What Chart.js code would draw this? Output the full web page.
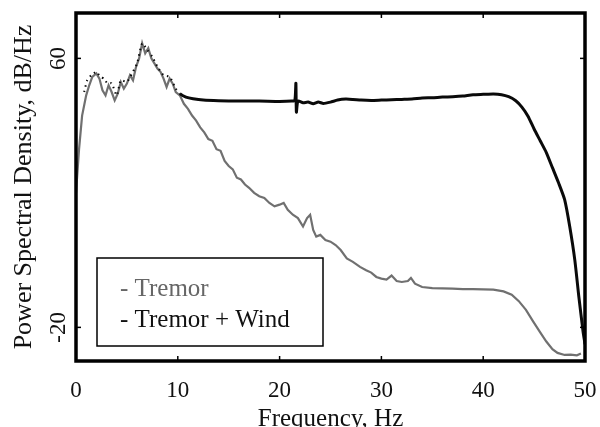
<!DOCTYPE html>
<html>
<head>
<meta charset="utf-8">
<script src="https://cdn.jsdelivr.net/npm/chart.js@4/dist/chart.umd.min.js"></script>
<style>
  html, body { margin: 0; padding: 0; background: #fff; overflow: hidden; }
  #wrap { width: 600px; height: 427px; }
</style>
</head>
<body>
<div id="wrap"><canvas id="Chart" width="600" height="427"></canvas></div>
<script>
// frequency (Hz) / PSD (dB/Hz)
const tremorFreq = [0, 0.3, 0.6, 1.0, 1.3, 1.6, 2.0, 2.3, 2.6, 2.9, 3.2, 3.5, 3.8, 4.1, 4.4, 4.7, 5.0, 5.3, 5.6, 5.9,
  6.2, 6.5, 6.8, 7.1, 7.4, 7.7, 8.0, 8.3, 8.6, 8.9, 9.2, 9.5, 9.8, 10.2, 10.6, 11.0, 11.4, 11.8, 12.2, 12.6,
  13.0, 13.4, 13.8, 14.2, 14.6, 15.0, 15.4, 15.8, 16.2, 16.6, 17.0, 17.5, 18.0, 18.5, 19.0, 19.5, 20.0, 20.4, 20.8, 21.3,
  21.8, 22.3, 22.7, 23.0, 23.3, 23.6, 24.0, 24.5, 25.0, 25.5, 26.0, 26.6, 27.2, 27.9, 28.5, 29.0, 29.5, 30.0, 30.5, 31.0,
  31.5, 32.0, 32.6, 32.9, 33.3, 34, 35, 36, 37, 38, 39, 40, 41, 42, 42.8, 43.5, 44.2, 44.9, 45.6, 46.2,
  46.8, 47.3, 48.0, 48.6, 49.2, 49.6];
const tremorPsd = [20, 33, 43, 49, 52, 54.5, 55.5, 54, 50.5, 49, 52, 50, 47.5, 49.5, 53, 51, 52.5, 55, 53.5, 57.5,
  60, 64.5, 61.5, 63, 60, 58.5, 57, 56, 54, 51.5, 54, 52.5, 50, 49, 46.5, 45, 43, 41.5, 39.5, 38,
  36, 35.5, 33, 32.5, 29.5, 28, 27, 24.5, 24, 22.5, 21.5, 20, 19, 18.5, 17, 16, 16.5, 17, 15, 13.5,
  12.5, 10, 12.5, 13.5, 9, 7, 7.5, 6, 5.5, 4.5, 3, 0.5, -0.5, -2, -3, -3.7, -5, -5.5, -5.8, -4.6,
  -6.2, -6.5, -6.2, -5.3, -7, -8, -8.3, -8.4, -8.5, -8.6, -8.6, -8.7, -8.8, -9.3, -10.3, -12.2, -14.8, -18.2, -21.5, -24.2,
  -26.5, -27.6, -28.2, -28.1, -28.3, -27.8];

const windFreq = [0.8, 1.1, 1.5, 2.0, 2.4, 2.75, 3.1, 3.5, 4.0, 4.4, 5.0, 5.5, 6.0, 6.5, 7.0, 7.5, 8.0, 8.6, 9.2, 9.8,
  10.2, 10.8, 11.5, 12.5, 14, 16, 18, 20, 21.2, 21.5, 21.6, 21.65, 21.8, 22.3, 22.8, 23.3, 23.8, 24.3, 25, 25.7,
  26.5, 27.2, 28, 29, 30, 31, 32, 33, 34, 35, 36, 37, 38, 39, 40, 41, 41.8, 42.5, 43.2, 43.8,
  44.4, 45.0, 45.6, 46.2, 46.8, 47.4, 48.0, 48.5, 49.0, 49.4, 49.8, 50];
const windPsd = [50, 53.5, 55, 56, 54.5, 54, 52.5, 52.6, 49, 53.5, 53, 55.5, 58.5, 64.5, 62.5, 60.5, 57.5, 55, 54.5, 51,
  49.5, 48.5, 48, 47.6, 47.4, 47.3, 47.3, 47.2, 47.3, 47.5, 52.6, 44, 47.3, 46.8, 47, 46.5, 47, 46.6, 47, 47.6,
  47.9, 47.8, 47.6, 47.5, 47.6, 47.7, 47.8, 47.9, 48.2, 48.3, 48.5, 48.6, 48.8, 49.2, 49.3, 49.4, 49.2, 48.6, 47.4, 45.5,
  42.8, 39, 35.5, 32, 27.5, 23, 18, 10, 0, -11, -21, -25];

const xTicks = [0, 10, 20, 30, 40, 50];
const yTicks = [-20, 60];
const seriesNames = ['Tremor', 'Tremor + Wind'];

const serif = '"Liberation Serif", "DejaVu Serif", serif';

const toPoints = (xs, ys) => xs.map((x, i) => ({x: x, y: ys[i]}));

// thick frame, inner tick marks and the boxed legend
const framePlugin = {
  id: 'frame',
  afterDraw(chart) {
    const {ctx, chartArea: a, scales} = chart;
    ctx.save();
    ctx.strokeStyle = '#000';
    ctx.lineWidth = 1.5;
    xTicks.forEach(v => {
      const px = scales.x.getPixelForValue(v);
      ctx.beginPath(); ctx.moveTo(px, a.bottom); ctx.lineTo(px, a.bottom - 5); ctx.stroke();
      ctx.beginPath(); ctx.moveTo(px, a.top); ctx.lineTo(px, a.top + 5); ctx.stroke();
    });
    yTicks.forEach(v => {
      const py = scales.y.getPixelForValue(v);
      ctx.beginPath(); ctx.moveTo(a.left, py); ctx.lineTo(a.left + 5, py); ctx.stroke();
      ctx.beginPath(); ctx.moveTo(a.right, py); ctx.lineTo(a.right - 5, py); ctx.stroke();
    });
    ctx.lineWidth = 3.5;
    ctx.strokeRect(a.left, a.top, a.right - a.left, a.bottom - a.top);

    // legend box
    const bx = a.left + 21, by = a.top + 245, bw = 226, bh = 88;
    ctx.lineWidth = 1.5;
    ctx.fillStyle = '#fff';
    ctx.fillRect(bx, by, bw, bh);
    ctx.strokeRect(bx, by, bw, bh);
    ctx.font = '25px ' + serif;
    ctx.textBaseline = 'alphabetic';
    chart.data.datasets.forEach((ds, i) => {
      ctx.fillStyle = ds.legendColor;
      ctx.fillText('- ' + ds.label, bx + 23, by + 38 + i * 31);
    });
    ctx.restore();
  }
};

new Chart(document.getElementById('Chart').getContext('2d'), {
  type: 'line',
  data: {
    datasets: [{
      label: seriesNames[0],
      data: toPoints(tremorFreq, tremorPsd),
      borderColor: '#707070',
      legendColor: '#666',
      borderWidth: 2.2,
      pointRadius: 0,
      tension: 0,
      order: 1
    }, {
      label: seriesNames[1],
      data: toPoints(windFreq, windPsd),
      borderColor: '#0a0a0a',
      legendColor: '#111',
      borderWidth: 3,
      pointRadius: 0,
      tension: 0.2,
      order: 0,
      segment: {
        borderDash: c => c.p1.parsed.x <= 10.2 ? [1.5, 4] : undefined,
        borderWidth: c => c.p1.parsed.x <= 10.2 ? 2 : 3
      }
    }]
  },
  options: {
    responsive: false,
    animation: false,
    layout: {padding: {top: 13, right: 15, left: 0, bottom: 0}},
    plugins: {legend: {display: false}, tooltip: {enabled: false}},
    scales: {
      x: {
        type: 'linear',
        min: 0, max: 50,
        afterBuildTicks: s => { s.ticks = xTicks.map(v => ({value: v})); },
        afterFit: s => { s.height = 66; s.paddingLeft = 0; s.paddingRight = 0; },
        grid: {display: false},
        border: {display: false},
        ticks: {color: '#111', font: {family: serif, size: 23}, padding: 8, maxRotation: 0},
        title: {display: true, text: 'Frequency, Hz', color: '#111', font: {family: serif, size: 25}, padding: {top: 0, bottom: -7}}
      },
      y: {
        type: 'linear',
        min: -30, max: 73.5,
        afterBuildTicks: s => { s.ticks = yTicks.map(v => ({value: v})); },
        afterFit: s => { s.width = 76; s.paddingTop = 0; s.paddingBottom = 0; },
        grid: {display: false},
        border: {display: false},
        ticks: {color: '#111', font: {family: serif, size: 23}, padding: -6, minRotation: 90, maxRotation: 90, crossAlign: 'center'},
        title: {display: true, text: 'Power Spectral Density, dB/Hz', color: '#111', font: {family: serif, size: 26}, padding: {top: 9}}
      }
    }
  },
  plugins: [framePlugin]
});
</script>
</body>
</html>
